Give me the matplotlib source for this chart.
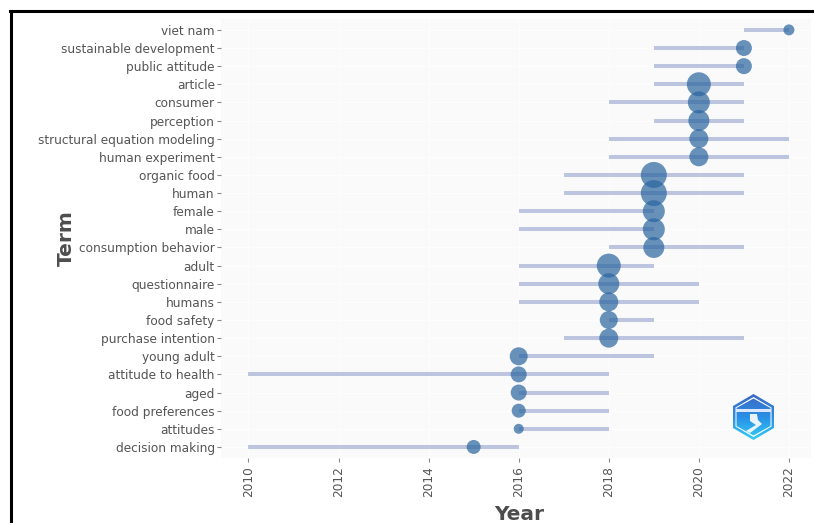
#!/usr/bin/env python3
"""Trend topics: term timeline with bubble at the median year"""

import numpy as np
import matplotlib
matplotlib.use('Agg')  # Non-interactive backend
import matplotlib.pyplot as plt
from matplotlib.lines import Line2D
from matplotlib.patches import Polygon

W, H = 814, 523

terms = ['viet nam', 'sustainable development', 'public attitude', 'article',
         'consumer', 'perception', 'structural equation modeling',
         'human experiment', 'organic food', 'human', 'female', 'male',
         'consumption behavior', 'adult', 'questionnaire', 'humans',
         'food safety', 'purchase intention', 'young adult',
         'attitude to health', 'aged', 'food preferences', 'attitudes',
         'decision making']
year_start = [2021, 2019, 2019, 2019, 2018, 2019, 2018, 2018, 2017, 2017, 2016, 2016,
              2018, 2016, 2016, 2016, 2018, 2017, 2016, 2010, 2016, 2016, 2016, 2010]
year_end = [2022, 2021, 2021, 2021, 2021, 2021, 2022, 2022, 2021, 2021, 2019, 2019,
            2021, 2019, 2020, 2020, 2019, 2021, 2019, 2018, 2018, 2018, 2018, 2016]
year_median = [2022, 2021, 2021, 2020, 2020, 2020, 2020, 2020, 2019, 2019, 2019, 2019,
               2019, 2018, 2018, 2018, 2018, 2018, 2016, 2016, 2016, 2016, 2016, 2015]
bubble_radius = [5.5, 8, 8, 12, 11, 10.5, 9.5, 9.5, 13, 13, 11, 11,
                 10.5, 12, 10.5, 9.5, 9, 9.5, 9, 8, 8, 7, 5, 7]

dpi = 100
plt.rcParams['font.family'] = ['DejaVu Sans']
fig = plt.figure(figsize=(W / dpi, H / dpi), dpi=dpi)

# panel placed in pixel coordinates
left, right, top, bottom = 221, 811, 19, 458
ax = fig.add_axes([left / W, 1 - bottom / H, (right - left) / W, (bottom - top) / H])
ax.set_facecolor('#fafafa')

y = list(range(len(terms)))[::-1]
ax.hlines(y, year_start, year_end, color='#b6bfdc', linewidth=2.9, alpha=0.9, zorder=2)
sizes = [(r * 2 * 72 / dpi) ** 2 for r in bubble_radius]
ax.scatter(year_median, y, s=sizes, color='#2a659f', alpha=0.7, linewidths=0, zorder=3)

ax.set_xlim(2009.39, 2022.49)
ax.set_ylim(-0.61, 23.6)
ax.set_yticks(y)
ax.set_yticklabels(terms, fontsize=8.7, color='#555555')
ax.set_xticks(range(2010, 2023, 2))
ax.set_xticklabels(range(2010, 2023, 2), rotation=90, fontsize=8.7, color='#555555')
ax.tick_params(axis='y', color='#888888', length=3, width=0.8, pad=1.5)
ax.tick_params(axis='x', color='#888888', length=3, width=0.8, pad=3)
ax.grid(True, color='white', linewidth=0.7, alpha=0.7, zorder=0)
ax.set_axisbelow(True)
for spine in ax.spines.values():
    spine.set_visible(False)

fig.text(66 / W, 1 - 238 / H, 'Term', rotation=90, fontsize=14.5, fontweight='bold',
         color='#4d4d4d', ha='center', va='center')
fig.text(519 / W, 1 - 514 / H, 'Year', fontsize=14.5, fontweight='bold',
         color='#4d4d4d', ha='center', va='center')

# screenshot frame along the top and left edge
fig.add_artist(Line2D([10.5 / W, 10.5 / W], [0, 1 - 10.5 / H], color='black', linewidth=2.2))
fig.add_artist(Line2D([10 / W, 1], [1 - 10.5 / H, 1 - 10.5 / H], color='black', linewidth=2.2))

# logo badge, lower right, in its own pixel-sized axes
logo = fig.add_axes([730 / W, 1 - 443 / H, 47 / W, 52 / H])
logo.set_xlim(730, 777)
logo.set_ylim(443, 391)
logo.axis('off')
logo.patch.set_alpha(0)
shade = np.linspace(0, 1, 64).reshape(-1, 1)
cmap = matplotlib.colors.LinearSegmentedColormap.from_list(
    'badge', ['#3f63c0', '#2a8fe6', '#35d5f7'])

outer = [(753.5, 394), (774, 406), (774, 428), (753.5, 440), (733, 428), (733, 406)]
inner = [(753.5, 397), (771.5, 407.5), (771.5, 426.5), (753.5, 437), (735.5, 426.5), (735.5, 407.5)]
img = logo.imshow(shade, cmap=cmap, extent=(730, 777, 443, 391), aspect='auto', zorder=1)
img.set_clip_path(Polygon(outer, closed=True, transform=logo.transData))
logo.add_patch(Polygon(inner, closed=True, facecolor='white', edgecolor='none', zorder=2))
img2 = logo.imshow(shade, cmap=cmap, extent=(730, 777, 443, 391), aspect='auto', zorder=3)
img2.set_clip_path(Polygon([(753.5, 398.5), (770.5, 408), (770.5, 426), (753.5, 435.5),
                            (736.5, 426), (736.5, 408)], closed=True, transform=logo.transData))
logo.add_patch(Polygon([(736, 409), (771, 409), (771, 412), (736, 412)], closed=True,
                       facecolor='#dce8fa', edgecolor='none', zorder=4))
logo.add_patch(Polygon([(750, 414), (757, 414), (758, 420), (762, 424), (750, 433), (746, 431),
                        (756, 425), (750, 421)], closed=True,
                       facecolor='white', edgecolor='none', alpha=0.9, zorder=4))
logo.set_xlim(730, 777)
logo.set_ylim(443, 391)

fig.savefig('out.png', dpi=dpi)
